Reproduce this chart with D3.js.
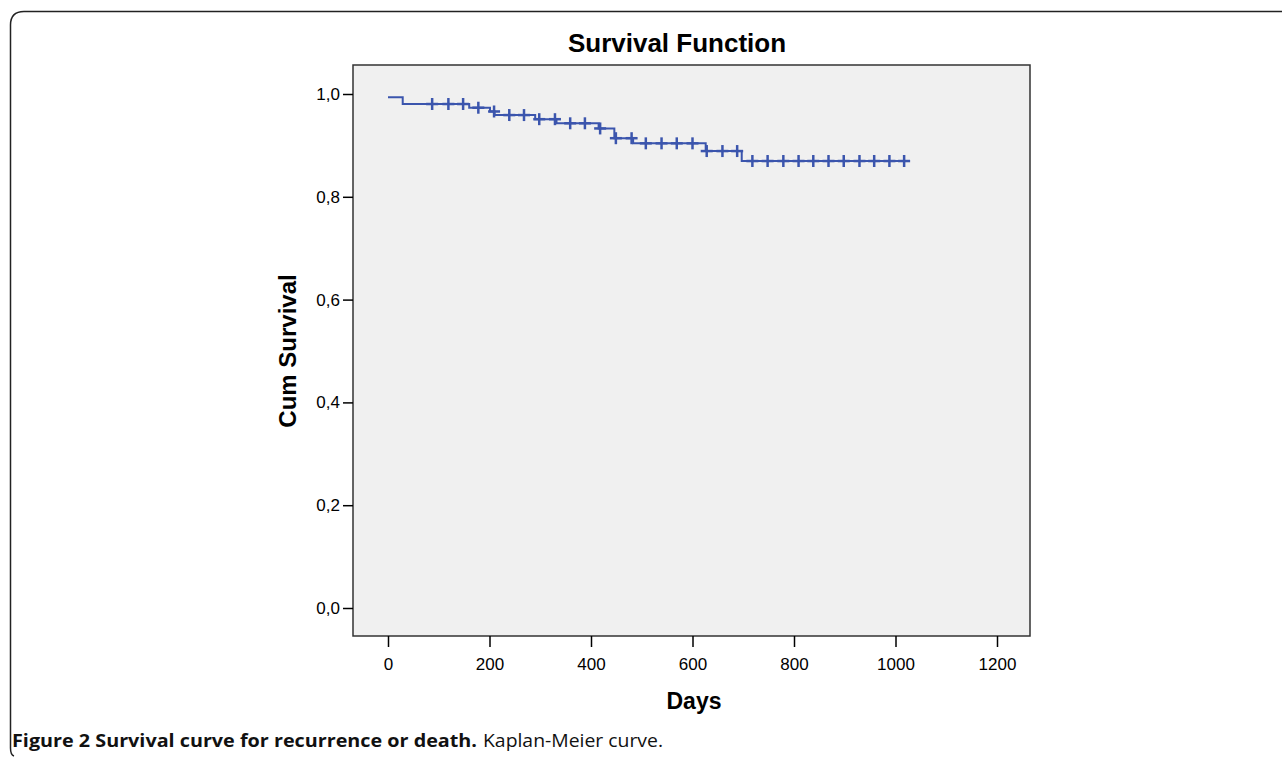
<!DOCTYPE html>
<html><head><meta charset="utf-8">
<script src="https://cdn.jsdelivr.net/npm/d3@7"></script>
<style>body{margin:0;background:#fff;}svg{display:block;}</style>
</head><body>
<script>
// Data
const startSurvival = 0.9936;
const eventDays = [29, 160, 201, 210, 290, 332, 415, 446, 483, 626, 697];
const eventSurvival = [0.9805, 0.9733, 0.966, 0.959, 0.951, 0.943, 0.933, 0.914, 0.904, 0.889, 0.8696];
const lastDay = 1028;
const censorDays = [87, 119, 148, 178, 209, 239, 268, 298, 329, 359, 388, 418, 449, 480, 508, 539, 569, 600, 628, 659, 688, 718, 748, 779, 809, 838, 868, 898, 929, 958, 988, 1017];
const xTicks = [0, 200, 400, 600, 800, 1000, 1200];
const yTicks = [0, 0.2, 0.4, 0.6, 0.8, 1.0];

const W = 1282, H = 757;
const FONT = "'Liberation Sans', Arial, sans-serif";
const svg = d3.select("body").append("svg").attr("width", W).attr("height", H);

// frame
svg.append("path")
  .attr("d", "M1282,11.5 L24,11.5 Q10.5,11.5 10.5,25 L10.5,748 Q10.5,755 14,756")
  .attr("fill", "none").attr("stroke", "#222").attr("stroke-width", 1.5);

const plot = {l: 353, t: 65, r: 1030, b: 636};
const x = d3.scaleLinear().domain([0, 1200]).range([388, 997]);
const y = d3.scaleLinear().domain([0, 1]).range([608, 94]);

svg.append("rect").attr("x", plot.l).attr("y", plot.t)
  .attr("width", plot.r - plot.l).attr("height", plot.b - plot.t)
  .attr("fill", "#f0f0f0").attr("stroke", "#333").attr("stroke-width", 1.5);

// axes
const yAxis = d3.axisLeft(y).tickValues(yTicks).tickSize(10).tickPadding(3)
  .tickFormat(d => d3.format(".1f")(d).replace(".", ","));
const gy = svg.append("g").attr("transform", `translate(${plot.l},0)`).call(yAxis)
  .attr("font-family", FONT).attr("font-size", 17);
gy.select(".domain").remove();
gy.selectAll("line").attr("stroke", "#000").attr("stroke-width", 1.5);
gy.selectAll("text").attr("fill", "#000");

const xAxis = d3.axisBottom(x).tickValues(xTicks).tickSize(11).tickPadding(11).tickFormat(d3.format("d"));
const gx = svg.append("g").attr("transform", `translate(0,${plot.b})`).call(xAxis)
  .attr("font-family", FONT).attr("font-size", 17);
gx.select(".domain").remove();
gx.selectAll("line").attr("stroke", "#000").attr("stroke-width", 1.5);
gx.selectAll("text").attr("fill", "#000");

// step curve
const pts = [[0, startSurvival]];
let cur = startSurvival;
eventDays.forEach((d, i) => { pts.push([d, cur]); pts.push([d, eventSurvival[i]]); cur = eventSurvival[i]; });
pts.push([lastDay, cur]);
const color = "#3b55ad";
svg.append("path").datum(pts)
  .attr("d", d3.line().x(d => x(d[0])).y(d => y(d[1])))
  .attr("fill", "none").attr("stroke", color).attr("stroke-width", 2);

function survAt(t) {
  let s = startSurvival;
  eventDays.forEach((d, i) => { if (d < t) s = eventSurvival[i]; });
  return s;
}
const cg = svg.append("g").attr("stroke", color).attr("stroke-width", 2.5);
censorDays.forEach(t => {
  const cx = x(t), cy = y(survAt(t));
  cg.append("line").attr("x1", cx).attr("x2", cx).attr("y1", cy - 6).attr("y2", cy + 6);
  cg.append("line").attr("x1", cx - 6).attr("x2", cx + 6).attr("y1", cy).attr("y2", cy);
});

// titles
svg.append("text").attr("x", 677).attr("y", 52).attr("text-anchor", "middle")
  .attr("font-family", FONT).attr("font-weight", "bold").attr("font-size", 26)
  .text("Survival Function");
svg.append("text").attr("x", 694).attr("y", 709).attr("text-anchor", "middle")
  .attr("font-family", FONT).attr("font-weight", "bold").attr("font-size", 23)
  .text("Days");
svg.append("text").attr("transform", "translate(296,351) rotate(-90)").attr("text-anchor", "middle")
  .attr("font-family", FONT).attr("font-weight", "bold").attr("font-size", 24)
  .text("Cum Survival");

// caption
svg.append("text").attr("x", 12).attr("y", 747)
  .attr("font-family", "'Open Sans', sans-serif").attr("font-size", 18).attr("font-weight", "bold").attr("fill", "#111")
  .attr("textLength", 465).attr("lengthAdjust", "spacingAndGlyphs")
  .text("Figure 2 Survival curve for recurrence or death.");
svg.append("text").attr("x", 483).attr("y", 747)
  .attr("font-family", "'Open Sans', sans-serif").attr("font-size", 18).attr("fill", "#111")
  .attr("textLength", 180).attr("lengthAdjust", "spacingAndGlyphs")
  .text("Kaplan-Meier curve.");
</script>
</body></html>
